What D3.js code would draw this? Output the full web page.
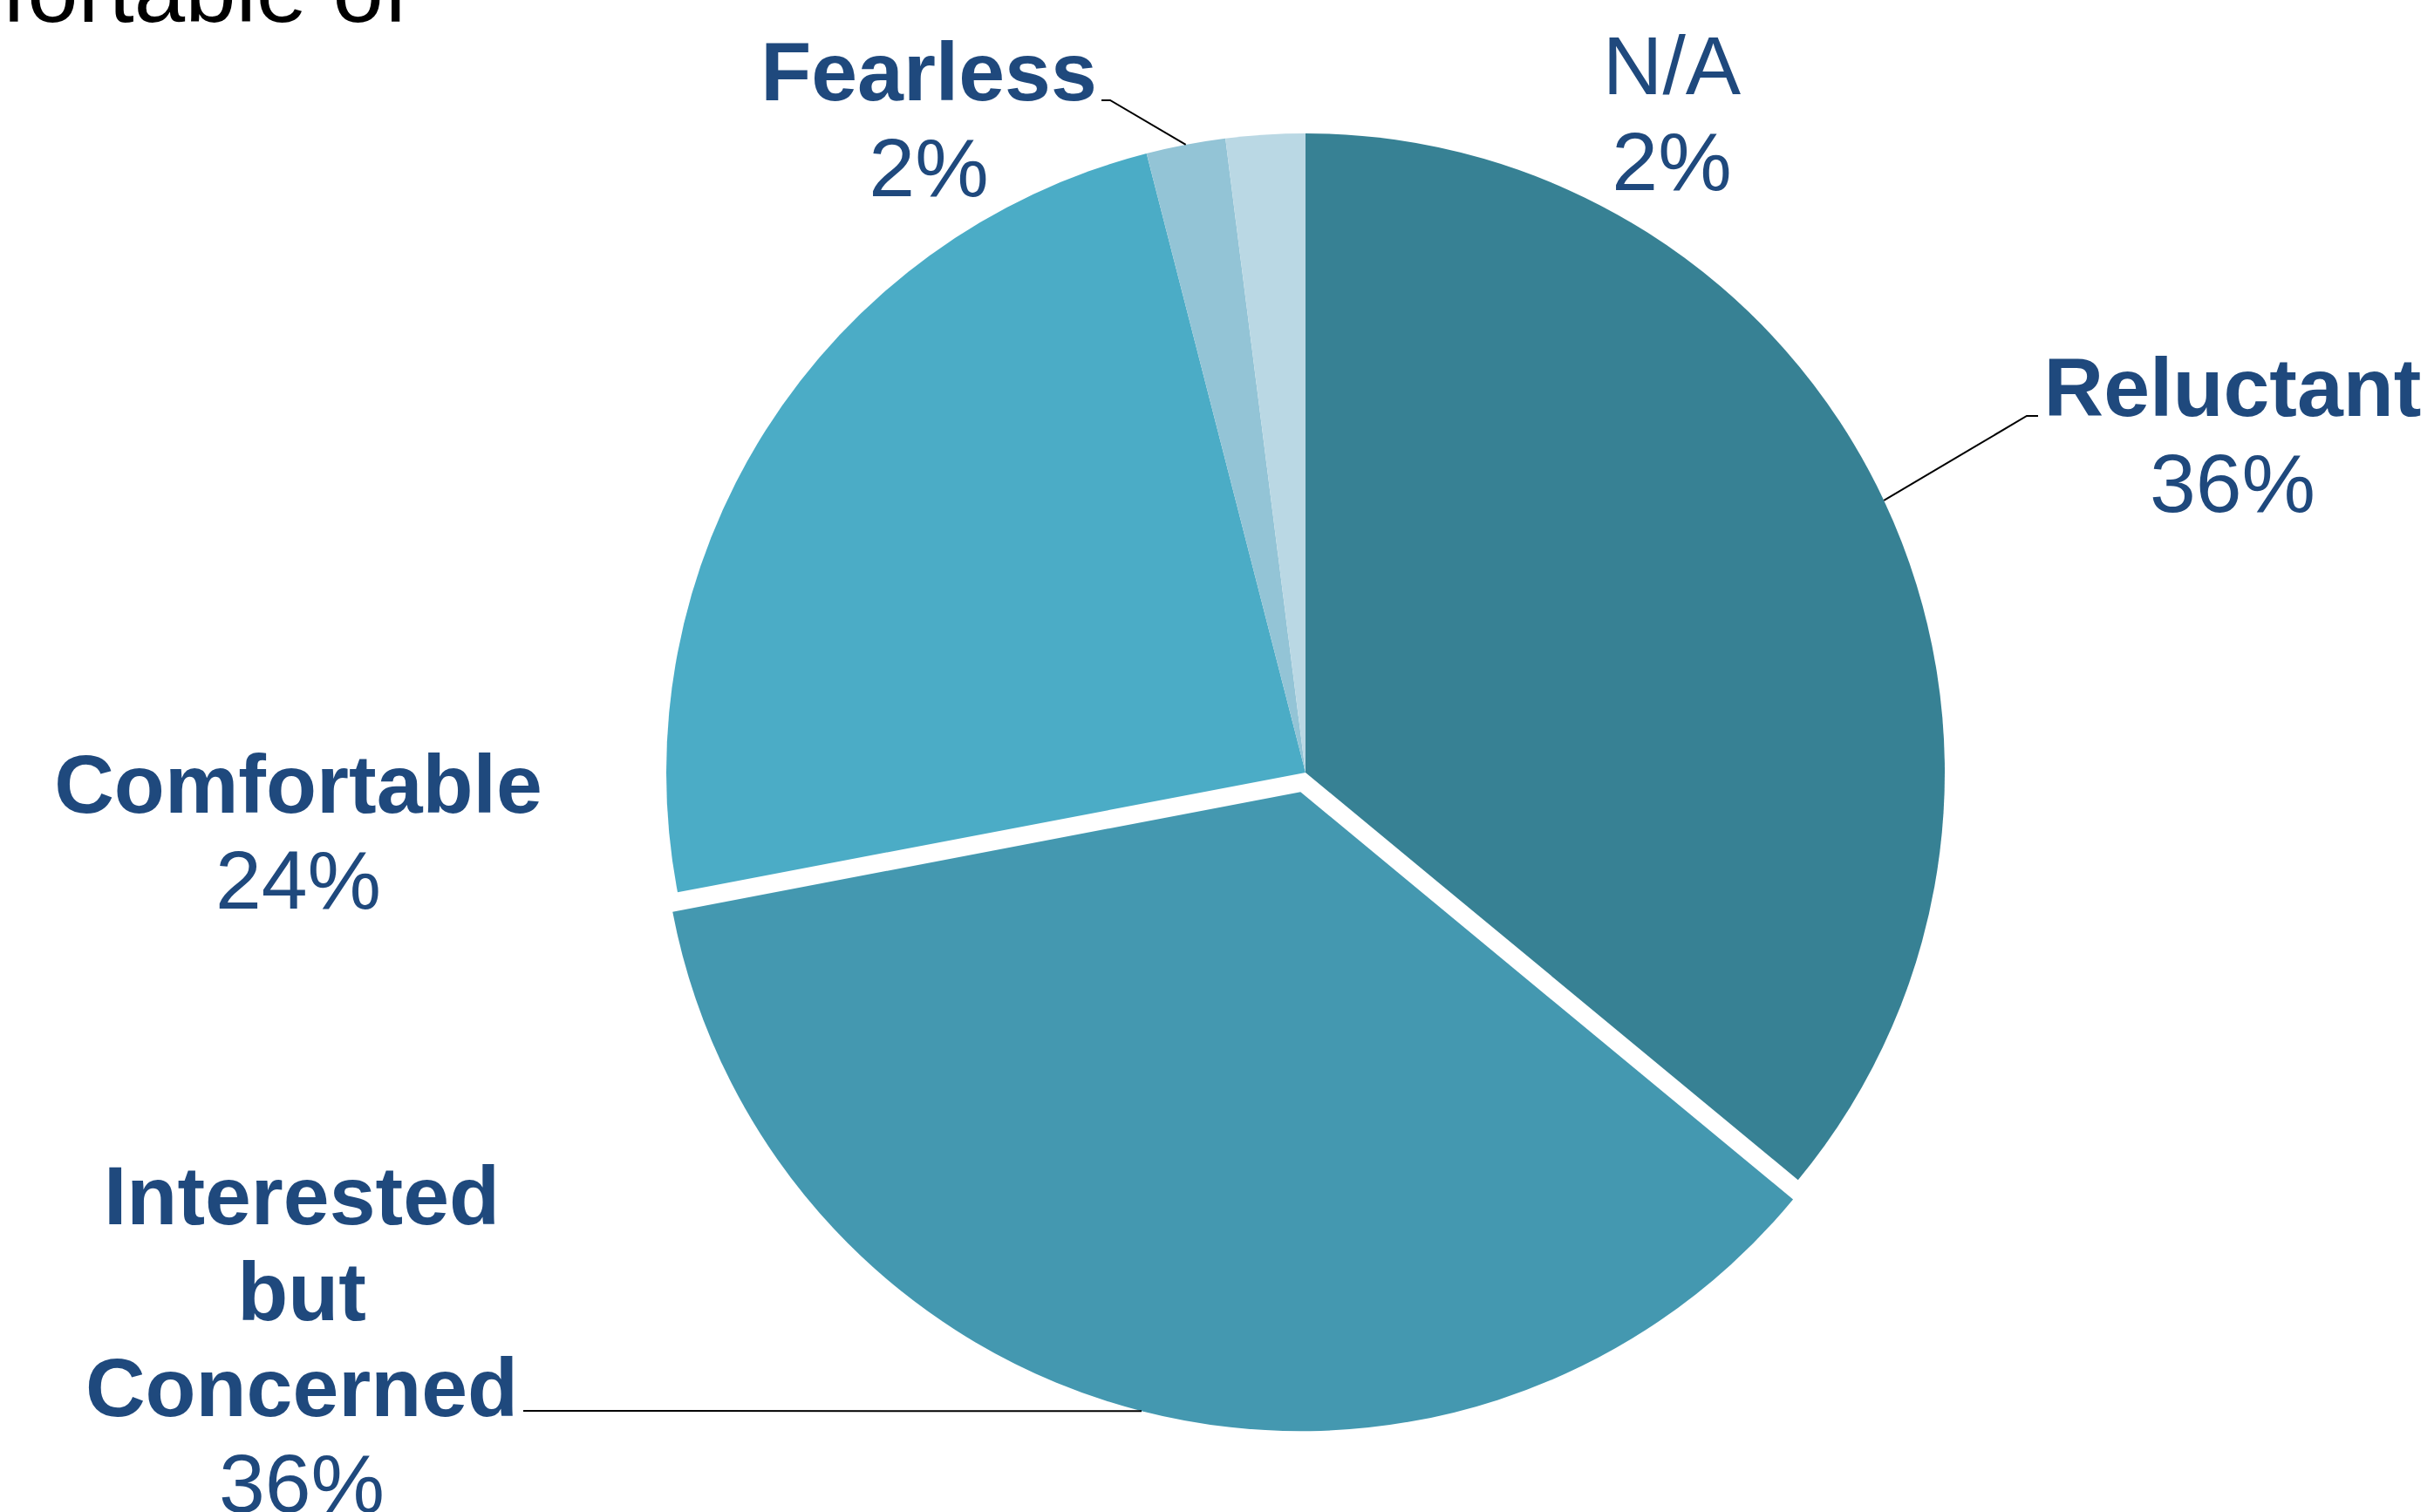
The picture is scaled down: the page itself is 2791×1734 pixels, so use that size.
<!DOCTYPE html>
<html>
<head>
<meta charset="utf-8">
<script src="https://cdn.jsdelivr.net/npm/d3@7/dist/d3.min.js"></script>
<style>
  html, body { margin: 0; padding: 0; background: #ffffff; overflow: hidden; }
  svg { display: block; }
  text { font-family: "Liberation Sans", Arial, sans-serif; }
</style>
</head>
<body>
<svg id="chart" width="2791" height="1734"></svg>
<script>
// Survey shares by comfort category, clockwise from 12 o'clock
const categories = ["Reluctant", "Interested but Concerned", "Comfortable", "Fearless", "N/A"];
const values = [36, 36, 24, 2, 2];
const nameLines = [["Reluctant"], ["Interested", "but", "Concerned"], ["Comfortable"], ["Fearless"], ["N/A"]];
const nameBold = [true, true, true, true, false];
const colors = ["#378194", "#4498b0", "#4bacc6", "#93c4d6", "#bad8e4"];
const exploded = [false, true, false, false, false];

// Layout of the pie and its hand-placed labels
const W = 2791, H = 1734;
const cx = 1497, cy = 886, R = 733, explodeDist = 23;
const fontSize = 95, lineStep = 110;
const textColor = "#1f497d";
// label block: centre x, baseline of first line
const labelPos = [
  { x: 2560, y: 477 },
  { x: 346, y: 1404 },
  { x: 342, y: 932 },
  { x: 1065, y: 115 },
  { x: 1917, y: 108 }
];
// leader line elbows (null = no leader)
const leaders = [
  [[2324, 477], [2337, 477]],
  [[600, 1618]],
  null,
  [[1273, 115], [1263, 115]],
  null
];

const svg = d3.select("#chart");

// Partial heading text along the top edge
svg.append("text")
  .attr("x", 469).attr("y", 25)
  .attr("text-anchor", "end")
  .attr("font-size", 105)
  .attr("fill", "#000000")
  .text("comfortable of");

const data = categories.map((c, i) => ({ name: c, value: values[i], i }));
const pie = d3.pie().sort(null).value(d => d.value).startAngle(0).endAngle(2 * Math.PI);
const arcs = pie(data);
const arc = d3.arc().innerRadius(0).outerRadius(R);

const g = svg.append("g").attr("transform", `translate(${cx},${cy})`);

function offsetOf(a) {
  if (!exploded[a.data.i]) return [0, 0];
  const mid = (a.startAngle + a.endAngle) / 2;
  return [Math.sin(mid) * explodeDist, -Math.cos(mid) * explodeDist];
}

g.selectAll("path.slice")
  .data(arcs)
  .enter().append("path")
  .attr("class", "slice")
  .attr("d", arc)
  .attr("fill", d => colors[d.data.i])
  .attr("transform", d => { const o = offsetOf(d); return `translate(${o[0]},${o[1]})`; });

// Leader lines from the slice edge at its mid angle to the label
arcs.forEach(a => {
  const pts = leaders[a.data.i];
  if (!pts) return;
  const mid = (a.startAngle + a.endAngle) / 2;
  const o = offsetOf(a);
  const start = [cx + o[0] + Math.sin(mid) * R, cy + o[1] - Math.cos(mid) * R];
  svg.append("path")
    .attr("d", d3.line()([start, ...pts]))
    .attr("fill", "none")
    .attr("stroke", "#000000")
    .attr("stroke-width", 2);
});

// Category names (bold) and percentages (regular)
arcs.forEach(a => {
  const i = a.data.i;
  const p = labelPos[i];
  const t = svg.append("text")
    .attr("text-anchor", "middle")
    .attr("font-size", fontSize)
    .attr("fill", textColor);
  const lines = nameLines[i];
  lines.forEach((ln, k) => {
    t.append("tspan")
      .attr("x", p.x).attr("y", p.y + k * lineStep)
      .attr("font-weight", nameBold[i] ? "bold" : "normal")
      .text(ln);
  });
  t.append("tspan")
    .attr("x", p.x).attr("y", p.y + lines.length * lineStep)
    .attr("font-weight", "normal")
    .text(d3.format(".0f")(a.data.value) + "%");
});
</script>
</body>
</html>
